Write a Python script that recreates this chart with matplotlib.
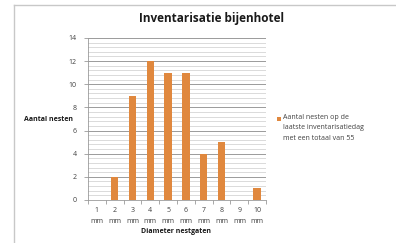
import matplotlib
matplotlib.use("Agg")
import matplotlib.pyplot as plt
import numpy as np
from matplotlib.lines import Line2D
from matplotlib.patches import Rectangle
from matplotlib.ticker import MultipleLocator

# Data
diameters = ["1\nmm", "2\nmm", "3\nmm", "4\nmm", "5\nmm", "6\nmm", "7\nmm", "8\nmm", "9\nmm", "10\nmm"]
nests = [0, 2, 9, 12, 11, 11, 4, 5, 0, 1]
series_label = "Aantal nesten op de\nlaatste inventarisatiedag\nmet een totaal van 55"

bar_color = "#e0883e"
plt.rcParams['font.family'] = ['Open Sans', 'DejaVu Sans']

fig = plt.figure(figsize=(3.96, 2.43), dpi=100)
ax = fig.add_axes([0.222, 0.177, 0.45, 0.667])

# outer chart border (top and left only visible)
fig.add_artist(Line2D([0.035, 1.0], [0.978, 0.978], color="#c8c8c8", lw=1.0))
fig.add_artist(Line2D([0.035, 0.035], [0.0, 0.978], color="#c8c8c8", lw=1.0))

x = np.arange(len(diameters))
bars = ax.bar(x, nests, width=0.42, color=bar_color, zorder=3)

ax.set_xlim(-0.5, len(diameters) - 0.5)
ax.set_ylim(0, 14)
ax.yaxis.set_major_locator(MultipleLocator(2))
ax.yaxis.set_minor_locator(MultipleLocator(0.4))
ax.grid(axis='y', which='major', color="#9a9a9a", lw=0.7, zorder=0)
ax.grid(axis='y', which='minor', color="#d4d4d4", lw=0.6, zorder=0)

ax.set_xticks(x)
ax.set_xticklabels(diameters, fontsize=5, color="#404040", linespacing=1.9)
ax.set_xticks(np.arange(-0.5, len(diameters)), minor=True)
ax.tick_params(axis='x', which='major', length=0, pad=5)
ax.tick_params(axis='x', which='minor', length=3, color="#9a9a9a", width=0.6)
ax.tick_params(axis='y', which='major', labelsize=5, labelcolor="#404040", length=3,
               color="#9a9a9a", width=0.6, pad=5)
ax.tick_params(axis='y', which='minor', length=0)

for side in ['top', 'right']:
    ax.spines[side].set_visible(False)
ax.spines['left'].set_color("#9a9a9a")
ax.spines['left'].set_linewidth(0.6)
ax.spines['bottom'].set_color("#9a9a9a")
ax.spines['bottom'].set_linewidth(0.6)

fig.text(0.535, 0.925, "Inventarisatie bijenhotel", ha='center', va='center',
         fontsize=8.5, fontweight='bold', color="#1a1a1a")
fig.text(0.06, 0.508, "Aantal nesten", ha='left', va='center', fontsize=5,
         fontweight='bold', color="#1a1a1a")
fig.text(0.445, 0.048, "Diameter nestgaten", ha='center', va='center', fontsize=5,
         fontweight='bold', color="#1a1a1a")

# legend: square key aligned with the first line of a wrapped label
fig.add_artist(Rectangle((0.699, 0.500), 0.011, 0.018, transform=fig.transFigure,
                         facecolor=bar_color, edgecolor='none'))
fig.text(0.715, 0.532, series_label, ha='left', va='top', fontsize=5,
         color="#404040", linespacing=1.75)

fig.savefig("out.png", dpi=100)
